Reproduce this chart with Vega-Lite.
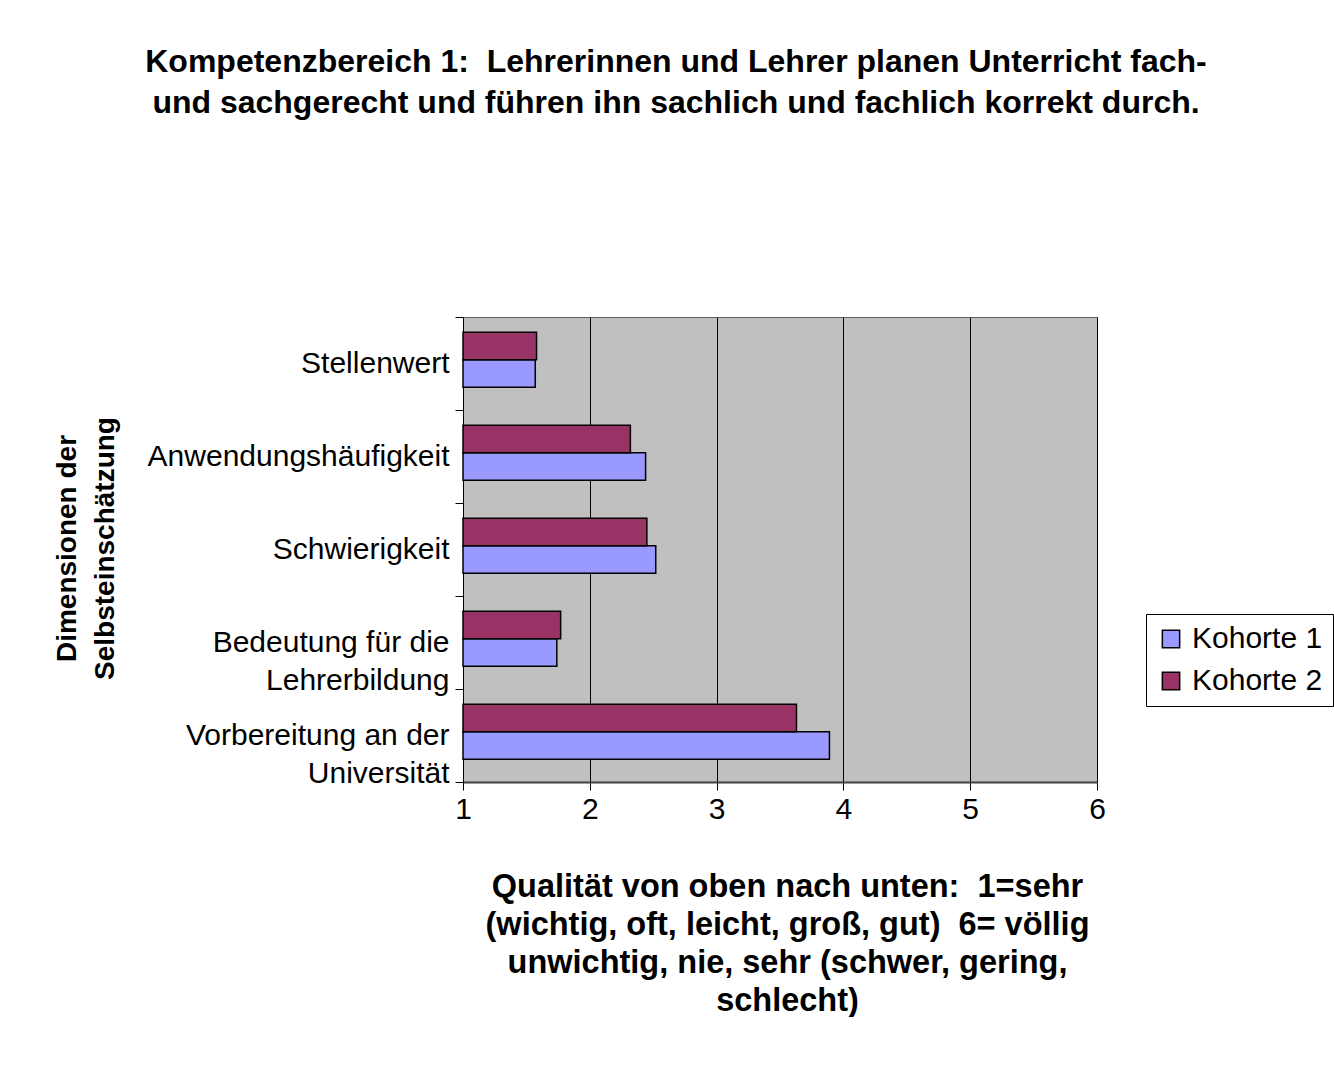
{
  "$schema": "https://vega.github.io/schema/vega-lite/v6.json",
  "width": 634,
  "height": 465,
  "padding": {"top": 46, "left": 53, "right": 0, "bottom": 0},
  "background": "white",
  "title": {
    "text": ["Kompetenzbereich 1:\u00a0 Lehrerinnen und Lehrer planen Unterricht fach-", "und sachgerecht und führen ihn sachlich und fachlich korrekt durch."],
    "font": "Liberation Sans",
    "fontSize": 32,
    "fontWeight": "bold",
    "lineHeight": 41,
    "color": "black",
    "anchor": "middle",
    "frame": "group",
    "dx": -104,
    "offset": 182
  },
  "data": {
    "values": [
      {"dimension": "Stellenwert", "kohorte": "Kohorte 1", "wert": 1.57},
      {"dimension": "Stellenwert", "kohorte": "Kohorte 2", "wert": 1.58},
      {"dimension": "Anwendungshäufigkeit", "kohorte": "Kohorte 1", "wert": 2.44},
      {"dimension": "Anwendungshäufigkeit", "kohorte": "Kohorte 2", "wert": 2.32},
      {"dimension": "Schwierigkeit", "kohorte": "Kohorte 1", "wert": 2.52},
      {"dimension": "Schwierigkeit", "kohorte": "Kohorte 2", "wert": 2.45},
      {"dimension": "Bedeutung für die Lehrerbildung", "kohorte": "Kohorte 1", "wert": 1.74},
      {"dimension": "Bedeutung für die Lehrerbildung", "kohorte": "Kohorte 2", "wert": 1.77},
      {"dimension": "Vorbereitung an der Universität", "kohorte": "Kohorte 1", "wert": 3.89},
      {"dimension": "Vorbereitung an der Universität", "kohorte": "Kohorte 2", "wert": 3.63}
    ]
  },
  "mark": {"type": "bar", "stroke": "black", "strokeWidth": 1.5},
  "encoding": {
    "y": {
      "field": "dimension",
      "type": "nominal",
      "sort": ["Stellenwert", "Anwendungshäufigkeit", "Schwierigkeit", "Bedeutung für die Lehrerbildung", "Vorbereitung an der Universität"],
      "scale": {"paddingInner": 0, "paddingOuter": 0},
      "axis": {
        "title": ["Dimensionen der", "Selbsteinschätzung"],
        "titleFont": "Liberation Sans",
        "titleFontSize": 28,
        "titleFontWeight": "bold",
        "titleLineHeight": 38,
        "titleColor": "black",
        "titleX": -396,
        "titleY": 231,
        "titleAngle": -90,
        "titleAlign": "center",
        "titleBaseline": "middle",
        "labelFont": "Liberation Sans",
        "labelFontSize": 30,
        "labelLineHeight": 38,
        "labelColor": "black",
        "labelPadding": 6,
        "labelLimit": 500,
        "labelExpr": "datum.value == 'Bedeutung für die Lehrerbildung' ? ['Bedeutung für die', 'Lehrerbildung'] : datum.value == 'Vorbereitung an der Universität' ? ['Vorbereitung an der', 'Universität'] : datum.value",
        "tickBand": "extent",
        "tickSize": 8,
        "tickColor": "black",
        "domainColor": "black",
        "grid": false
      }
    },
    "yOffset": {
      "field": "kohorte",
      "type": "nominal",
      "sort": ["Kohorte 2", "Kohorte 1"],
      "scale": {"paddingInner": 0, "paddingOuter": 0.69, "align": 0.4}
    },
    "x": {
      "field": "wert",
      "type": "quantitative",
      "scale": {"domain": [1, 6], "nice": false, "zero": false},
      "axis": {
        "values": [1, 2, 3, 4, 5, 6],
        "format": "d",
        "title": ["Qualität von oben nach unten:\u00a0 1=sehr", "(wichtig, oft, leicht, groß, gut)\u00a0 6= völlig", "unwichtig, nie, sehr (schwer, gering,", "schlecht)"],
        "titleFont": "Liberation Sans",
        "titleFontSize": 32.5,
        "titleFontWeight": "bold",
        "titleLineHeight": 38,
        "titleColor": "black",
        "titlePadding": 46,
        "titleX": 324,
        "titleAlign": "center",
        "labelFont": "Liberation Sans",
        "labelFontSize": 30,
        "labelColor": "black",
        "labelPadding": 4,
        "labelFlush": false,
        "tickSize": 8,
        "tickColor": "black",
        "domainColor": "#404040",
        "domainWidth": 2,
        "grid": true,
        "gridColor": "black",
        "gridWidth": 1
      }
    },
    "x2": {"datum": 1},
    "color": {
      "field": "kohorte",
      "type": "nominal",
      "scale": {"domain": ["Kohorte 1", "Kohorte 2"], "range": ["#9999FF", "#993366"]},
      "legend": {
        "title": null,
        "orient": "none",
        "legendX": 683,
        "legendY": 297,
        "symbolType": "square",
        "symbolSize": 300,
        "symbolStrokeColor": "black",
        "symbolStrokeWidth": 1.5,
        "symbolOpacity": 1,
        "labelFont": "Liberation Sans",
        "labelFontSize": 30,
        "labelColor": "black",
        "labelOffset": 6,
        "rowPadding": 12,
        "padding": 10,
        "strokeColor": "black",
        "fillColor": "white"
      }
    }
  },
  "config": {
    "view": {"fill": "#C0C0C0", "stroke": "#606060", "strokeWidth": 1}
  }
}
